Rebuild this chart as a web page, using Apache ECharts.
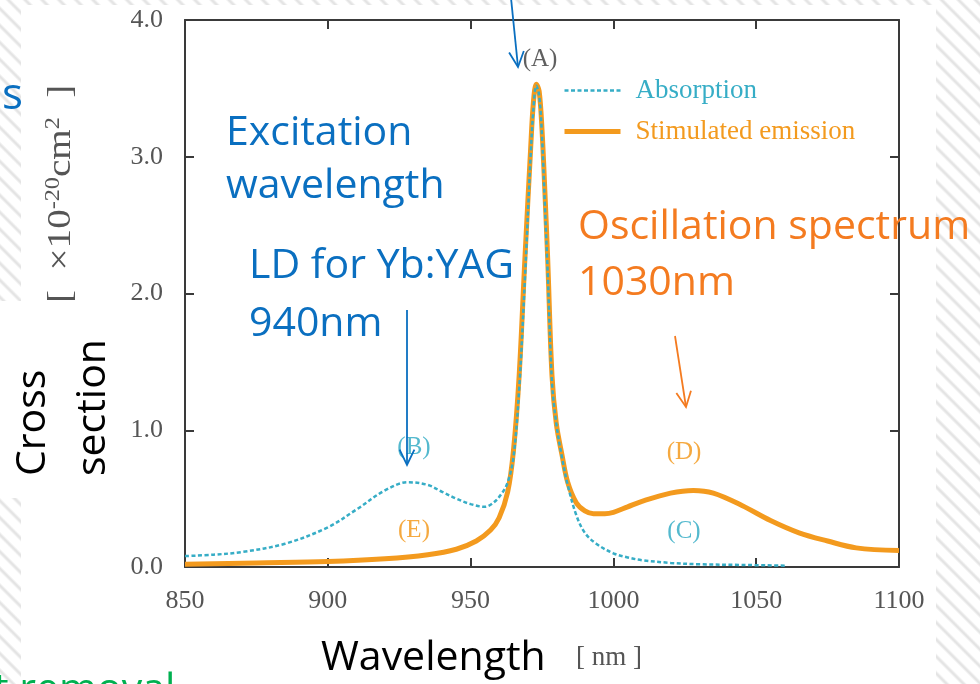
<!DOCTYPE html>
<html>
<head>
<meta charset="utf-8">
<script src="https://cdn.jsdelivr.net/npm/echarts@6/dist/echarts.min.js"></script>
<style>
html, body { margin: 0; padding: 0; }
body {
  width: 980px; height: 684px; overflow: hidden; position: relative;
  background: repeating-linear-gradient(45deg, #fff 0px, #fff 7px, #e4e4e4 9px, #e4e4e4 10px, #fff 12px);
}
.sheet { position: absolute; background: #fff; }
#main { position: absolute; left: 0; top: 0; width: 980px; height: 684px; }
</style>
</head>
<body>
<div class="sheet" style="left:21px;top:5px;width:915px;height:679px"></div>
<div id="main"></div>
<script>
// wavelength [nm] / cross section [x1e-20 cm2]
const absWl = [850, 860, 870, 885, 900, 910, 920, 928, 935, 940, 945, 950, 955, 958, 961, 963, 965, 967, 969, 971, 972, 973, 974, 975, 976, 977, 978.5, 980, 982, 984, 987, 990, 994, 1000, 1005, 1010, 1020, 1030, 1045, 1060];
const absVal = [0.08, 0.09, 0.11, 0.17, 0.29, 0.42, 0.56, 0.62, 0.60, 0.55, 0.50, 0.46, 0.44, 0.47, 0.54, 0.62, 0.80, 1.30, 2.10, 3.00, 3.35, 3.52, 3.45, 3.15, 2.65, 2.15, 1.35, 1.05, 0.80, 0.60, 0.38, 0.25, 0.17, 0.10, 0.07, 0.05, 0.03, 0.02, 0.015, 0.01];

const emiWl = [850, 875, 900, 920, 935, 945, 952, 957, 960, 963, 965, 967, 969, 971, 972, 973, 974, 975, 976, 977, 978.5, 980, 982, 984, 987, 990, 993, 997, 1000, 1005, 1010, 1020, 1028, 1035, 1045, 1055, 1065, 1075, 1085, 1100];
const emiVal = [0.02, 0.03, 0.04, 0.06, 0.09, 0.13, 0.19, 0.27, 0.36, 0.55, 0.85, 1.40, 2.25, 3.05, 3.40, 3.53, 3.48, 3.20, 2.75, 2.25, 1.40, 1.05, 0.82, 0.62, 0.47, 0.41, 0.39, 0.39, 0.40, 0.44, 0.48, 0.54, 0.56, 0.54, 0.45, 0.34, 0.25, 0.19, 0.14, 0.12];

const seriesNames = ["Absorption", "Stimulated emission"];

const cyan = "#36adc6";
const orange = "#f39a1e";
const axisColor = "#3a3a3a";
const blue = "#0a6fc0";
const noteOrange = "#f47b20";
const noteFont = "Open Sans";

var chart = echarts.init(document.getElementById("main"), null, { renderer: "canvas" });

// open V arrow, shaft + head
function arrow(x1, y1, x2, y2, color) {
      const a = Math.atan2(y2 - y1, x2 - x1);
      const len = 17, spread = 0.45;
      return [
            { type: "line", z: 60, shape: { x1: x1, y1: y1, x2: x2, y2: y2 }, style: { stroke: color, lineWidth: 1.8 } },
            {
                  type: "polyline", z: 60,
                  shape: {
                        points: [
                              [x2 - len * Math.cos(a - spread), y2 - len * Math.sin(a - spread)],
                              [x2, y2],
                              [x2 - len * Math.cos(a + spread), y2 - len * Math.sin(a + spread)],
                        ],
                  },
                  style: { stroke: color, lineWidth: 1.8, fill: null },
            },
      ];
}

function note(text, x, y, color, size) {
      return {
            type: "text", x: x, y: y, z: 60,
            style: { text: text, fill: color, font: (size || 41) + 'px "' + noteFont + '"', align: "left", verticalAlign: "middle" },
      };
}

function tag(text, x, y, color) {
      return {
            type: "text", x: x, y: y, z: 60,
            style: { text: text, fill: color, font: '25px "Liberation Serif"', align: "center", verticalAlign: "middle", opacity: 0.85 },
      };
}

var option = {
      backgroundColor: "transparent",
      animation: false,
      grid: { left: 185, right: 81, top: 20, bottom: 117 },
      legend: {
            orient: "vertical",
            left: 557,
            top: 72,
            itemWidth: 56,
            itemHeight: 12,
            itemGap: 14,
            itemStyle: { opacity: 0 },
            textStyle: { fontFamily: "Liberation Serif", fontSize: 27, padding: [0, 0, 0, 10] },
            data: [
                  { name: seriesNames[0], textStyle: { color: cyan }, lineStyle: { width: 2.5 } },
                  { name: seriesNames[1], textStyle: { color: orange }, lineStyle: { width: 5 } },
            ],
      },
      xAxis: [
            {
                  type: "value", min: 850, max: 1100, interval: 50, position: "bottom",
                  axisLine: { onZero: false, lineStyle: { color: axisColor, width: 2 } },
                  axisTick: { inside: true, length: 9, lineStyle: { color: axisColor, width: 2 } },
                  axisLabel: {
                        margin: 21, color: "#555", fontFamily: "Liberation Serif", fontSize: 26,
                        formatter: function (v) { return String(v); },
                  },
                  splitLine: { show: false },
            },
            {
                  type: "value", min: 850, max: 1100, interval: 50, position: "top",
                  axisLine: { onZero: false, lineStyle: { color: axisColor, width: 2 } },
                  axisTick: { inside: true, length: 9, lineStyle: { color: axisColor, width: 2 } },
                  axisLabel: { show: false },
                  splitLine: { show: false },
            },
      ],
      yAxis: [
            {
                  type: "value", min: 0, max: 4, interval: 1, position: "left",
                  axisLine: { show: true, onZero: false, lineStyle: { color: axisColor, width: 2 } },
                  axisTick: { show: true, inside: true, length: 9, lineStyle: { color: axisColor, width: 2 } },
                  axisLabel: {
                        margin: 22, color: "#555", fontFamily: "Liberation Serif", fontSize: 26,
                        formatter: function (v) { return v.toFixed(1); },
                  },
                  splitLine: { show: false },
            },
            {
                  type: "value", min: 0, max: 4, interval: 1, position: "right",
                  axisLine: { show: true, onZero: false, lineStyle: { color: axisColor, width: 2 } },
                  axisTick: { show: true, inside: true, length: 9, lineStyle: { color: axisColor, width: 2 } },
                  axisLabel: { show: false },
                  splitLine: { show: false },
            },
      ],
      series: [
            {
                  name: seriesNames[0],
                  type: "line",
                  data: absWl.map((w, i) => [w, absVal[i]]),
                  symbol: "none",
                  smooth: 0.35,
                  z: 4,
                  itemStyle: { color: cyan },
                  lineStyle: { color: cyan, width: 2.5, type: [4, 2.5] },
            },
            {
                  name: seriesNames[1],
                  type: "line",
                  data: emiWl.map((w, i) => [w, emiVal[i]]),
                  symbol: "none",
                  smooth: 0.35,
                  z: 3,
                  itemStyle: { color: orange },
                  lineStyle: { color: orange, width: 5 },
            },
      ],
      graphic: [
            // y axis unit, partly hidden under the text box
            {
                  type: "text", x: 61, y: 303, rotation: Math.PI / 2, scaleX: 1.15, z: 40,
                  style: {
                        text: "{a|[  ×10}{s|-20}{a|cm}{s|2}{a|  ]}",
                        fill: "#555",
                        align: "left",
                        verticalAlign: "middle",
                        rich: {
                              a: { fontFamily: "Liberation Serif", fontSize: 34, fill: "#555", lineHeight: 36 },
                              s: { fontFamily: "Liberation Serif", fontSize: 21, fill: "#555", verticalAlign: "top", lineHeight: 36 },
                        },
                  },
            },
            { type: "rect", z: 45, shape: { x: 0, y: 301, width: 125, height: 197 }, style: { fill: "#fff" } },
            {
                  type: "text", x: 33, y: 476, rotation: Math.PI / 2, z: 50,
                  style: { text: "Cross", fill: "#000", font: '41px "' + noteFont + '"', align: "left", verticalAlign: "middle" },
            },
            {
                  type: "text", x: 93, y: 476, rotation: Math.PI / 2, z: 50,
                  style: { text: "section", fill: "#000", font: '41px "' + noteFont + '"', align: "left", verticalAlign: "middle" },
            },
            note("s", 2, 96, blue, 44),
            note("Excitation", 226, 133, blue),
            note("wavelength", 226, 186, blue),
            note("LD for Yb:YAG", 249, 266, blue),
            note("940nm", 249, 324, blue),
            note("Oscillation spectrum", 578, 227, noteOrange),
            note("1030nm", 578, 283, noteOrange),
            note("Wavelength", 321, 658, "#000"),
            note("t removal", -6, 690, "#00b050"),
            {
                  type: "text", x: 576, y: 658, z: 60,
                  style: { text: "[ nm ]", fill: "#555", font: '27px "Liberation Serif"', align: "left", verticalAlign: "middle" },
            },
            tag("(A)", 540, 59, "#444"),
            tag("(B)", 414, 447, cyan),
            tag("(D)", 684, 452, orange),
            tag("(E)", 414, 530, orange),
            tag("(C)", 684, 531, cyan),
      ]
            .concat(arrow(511, -2, 518, 67, blue))
            .concat(arrow(407, 310, 407, 465, blue))
            .concat(arrow(675, 336, 686, 407, noteOrange)),
};

chart.setOption(option);
</script>
</body>
</html>
